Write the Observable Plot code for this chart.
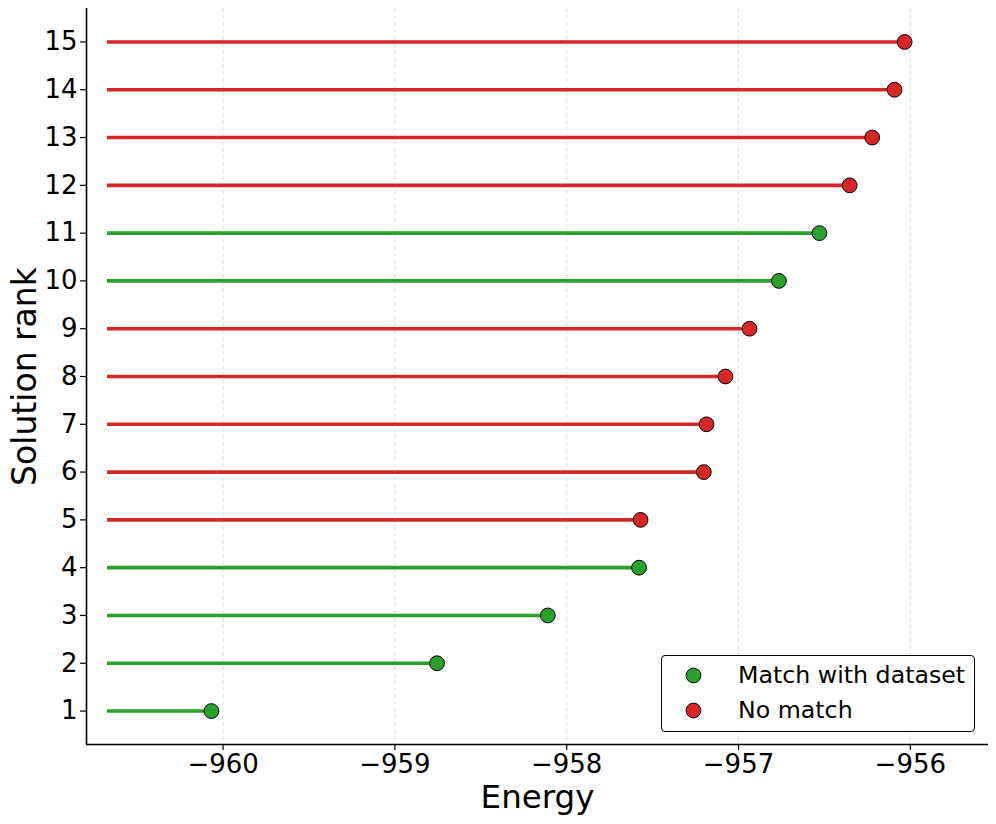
<!DOCTYPE html>
<html>
<head>
<meta charset="utf-8">
<script src="https://cdn.jsdelivr.net/npm/d3@7"></script>
<script src="https://cdn.jsdelivr.net/npm/@observablehq/plot@0.6"></script>
<style>
  html, body { margin: 0; padding: 0; background: #fff; }
  #wrap { position: relative; width: 996px; height: 824px; font-family: "DejaVu Sans", sans-serif; }
  #legend {
    position: absolute; left: 661px; top: 655px; width: 314px; height: 77px;
    border: 1px solid #000; border-radius: 4px; background: #fff; box-sizing: border-box;
    font-size: 23.7px; color: #000;
  }
  .li { position: absolute; left: 0; height: 30px; display: flex; align-items: center; white-space: nowrap; }
  .li svg { margin-left: 23px; margin-right: 36px; }
</style>
</head>
<body>
<div id="wrap"></div>
<script>
const ranks = [1, 2, 3, 4, 5, 6, 7, 8, 9, 10, 11, 12, 13, 14, 15];
const energies = [-960.068, -958.755, -958.11, -957.579, -957.57, -957.202, -957.186, -957.076, -956.936, -956.765, -956.529, -956.353, -956.222, -956.092, -956.033];
const matched = [1, 1, 1, 1, 0, 0, 0, 0, 0, 1, 1, 0, 0, 0, 0];
const categories = ["Match with dataset", "No match"];
const colors = ["#2ca02c", "#d62728"];
const lineStart = -960.673;
const xTicks = [-960, -959, -958, -957, -956];
const xDomain = [-960.795, -955.545];
const yDomain = [0.3, 15.7];

const data = ranks.map((r, i) => ({
  rank: r, energy: energies[i], cat: matched[i] ? categories[0] : categories[1]
}));

const chart = Plot.plot({
  width: 996, height: 824,
  marginLeft: 86, marginRight: 8, marginTop: 8, marginBottom: 80,
  style: { fontFamily: "DejaVu Sans, sans-serif", color: "#000", background: "#fff" },
  x: { domain: xDomain },
  y: { domain: yDomain },
  color: { domain: categories, range: colors },
  marks: [
    Plot.gridX(xTicks, { stroke: "#b0b0b0", strokeOpacity: 0.4, strokeDasharray: "4,3", strokeWidth: 1 }),
    Plot.ruleY(data, { y: "rank", x1: () => lineStart, x2: "energy", stroke: "cat", strokeWidth: 3.6 }),
    Plot.dot(data, { x: "energy", y: "rank", r: 7.4, fill: "cat", stroke: "#000", strokeWidth: 1 }),
    Plot.axisX(xTicks, { tickFormat: d => "\u2212" + Math.abs(d), fontSize: 26, tickSize: 6, tickPadding: 4, label: null, strokeWidth: 1.2 }),
    Plot.axisY(ranks, { fontSize: 26, tickSize: 6, tickPadding: 3, label: null, strokeWidth: 1.2 }),
    Plot.ruleX([xDomain[0]], { stroke: "#000", strokeWidth: 1.6 }),
    Plot.ruleY([yDomain[0]], { stroke: "#000", strokeWidth: 1.6 }),
    Plot.text(["Energy"], { frameAnchor: "bottom", lineAnchor: "middle", textAnchor: "middle", dy: 53, fontSize: 32.5, fill: "#000" }),
    Plot.text(["Solution rank"], { frameAnchor: "left", lineAnchor: "middle", textAnchor: "middle", rotate: -90, dx: -61, fontSize: 33, fill: "#000" })
  ]
});
const wrap = document.getElementById("wrap");
wrap.appendChild(chart);

const legend = document.createElement("div");
legend.id = "legend";
categories.forEach((c, i) => {
  const row = document.createElement("div");
  row.className = "li";
  row.style.top = (4 + i * 35) + "px";
  row.innerHTML = `<svg width="17" height="17"><circle cx="8.5" cy="8.5" r="7.4" fill="${colors[i]}" stroke="#000" stroke-width="1"/></svg><span>${c}</span>`;
  legend.appendChild(row);
});
wrap.appendChild(legend);
</script>
</body>
</html>
